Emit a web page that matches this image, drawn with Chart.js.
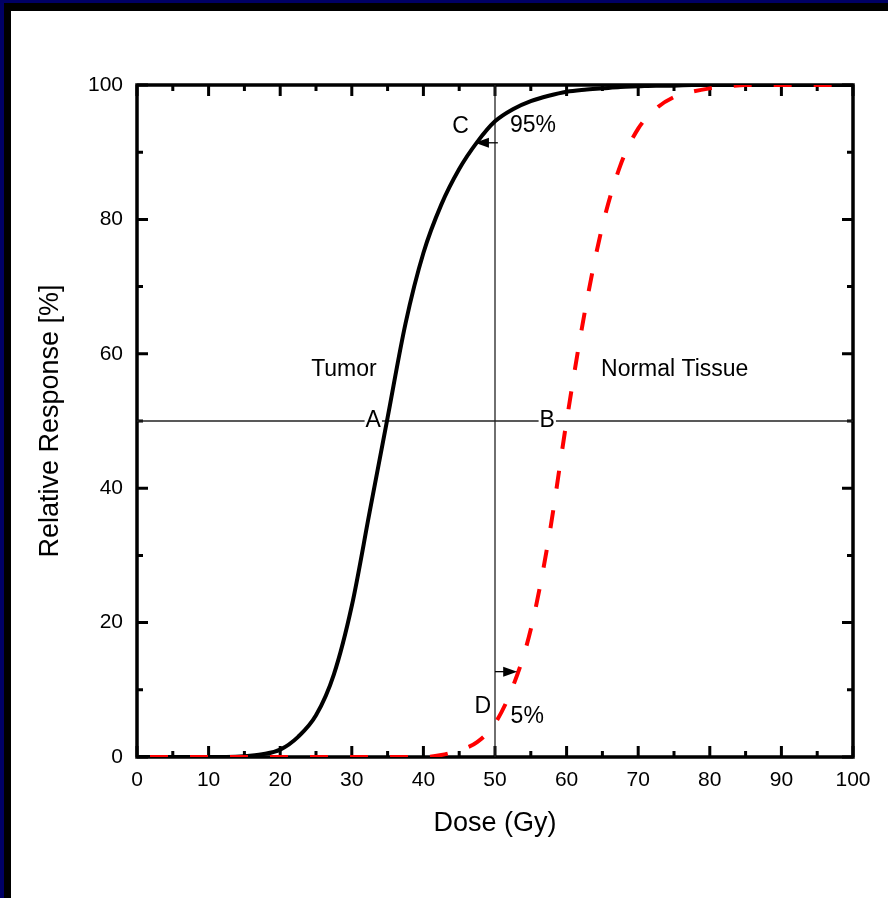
<!DOCTYPE html>
<html>
<head>
<meta charset="utf-8">
<script src="https://cdn.jsdelivr.net/npm/chart.js@4"></script>
<style>
body{margin:0;background:#fff;}
#wrap{position:relative;width:888px;height:898px;overflow:hidden;background:#fff;}
#chart{position:absolute;left:0;top:0;}
.edge{position:absolute;}
</style>
</head>
<body>
<div id="wrap">
<canvas id="chart" width="888" height="898"></canvas>
<div class="edge" style="left:0;top:0;width:888px;height:3px;background:#000066"></div>
<div class="edge" style="left:0;top:0;width:4px;height:898px;background:#000066"></div>
<div class="edge" style="left:4px;top:3px;width:884px;height:8px;background:#000"></div>
<div class="edge" style="left:4px;top:3px;width:7px;height:895px;background:#000"></div>
</div>
<script>
// dose in Gy, response in %
var doses = [0,2.5,5,7.5,10,12.5,15,17.5,20,22.5,25,27.5,30,32.5,35,37.5,40,42.5,45,47.5,
             50,52.5,55,57.5,60,62.5,65,67.5,70,72.5,75,77.5,80,82.5,85,87.5,90,92.5,95,97.5,100];
var tumor = [0,0,0,0,0,0,0.1,0.4,1.1,3.0,6.2,12.3,22.5,36.5,50.5,64.5,75,82.2,87.5,91.5,
             94.6,96.4,97.6,98.4,99,99.3,99.5,99.7,99.8,99.9,99.9,100,100,100,100,100,100,100,100,100,100];
var normal = [0,0,0,0,0,0,0,0,0,0,0,0,0,0,0,0,0,0.3,1,2.2,
              5,10.5,19,32.5,50,66,79,88,93.5,96.5,98.2,99,99.5,99.8,100,100,100,100,100,100,100];
var refDose = 50;
var refResp = 50;
var xTicks = [0,100,10];
var yTicks = [0,100,20];

// annotations (data units)
var notes = [
    {t:'C', x:45.2, y:93.8},
    {t:'95%', x:55.3, y:93.9},
    {t:'Tumor', x:28.9, y:57.7},
    {t:'Normal Tissue', x:75.1, y:57.7},
    {t:'A', x:33.0, y:50, bg:true},
    {t:'B', x:57.3, y:50, bg:true},
    {t:'D', x:48.3, y:7.5},
    {t:'5%', x:54.5, y:6}
];
var arrows = [
    {x0:50.4, x1:47.2, y:91.4},
    {x0:50, x1:53.1, y:12.7}
];

function pts(xs, ys){
    var out = [];
    for(var i=0;i<xs.length;i++) out.push({x:xs[i], y:ys[i]});
    return out;
}

var FONT = "'Liberation Sans', Arial, sans-serif";

var framePlugin = {
    id: 'frame',
    beforeDatasetsDraw: function(chart){
        var ctx = chart.ctx, a = chart.chartArea;
        var sx = chart.scales.x, sy = chart.scales.y;
        ctx.save();
        ctx.strokeStyle = '#000';
        ctx.lineWidth = 3;
        for(var v=0; v<=100; v+=5){
            var px = sx.getPixelForValue(v);
            var len = v%10===0 ? 11 : 6;
            ctx.beginPath();
            ctx.moveTo(px, a.bottom); ctx.lineTo(px, a.bottom-len);
            ctx.moveTo(px, a.top); ctx.lineTo(px, a.top+len);
            ctx.stroke();
        }
        for(var w=0; w<=100; w+=10){
            var py = sy.getPixelForValue(w);
            var l2 = w%20===0 ? 11 : 6;
            ctx.beginPath();
            ctx.moveTo(a.left, py); ctx.lineTo(a.left+l2, py);
            ctx.moveTo(a.right, py); ctx.lineTo(a.right-l2, py);
            ctx.stroke();
        }
        ctx.lineWidth = 3.5;
        ctx.strokeRect(a.left, a.top, a.right-a.left, a.bottom-a.top);
        ctx.restore();
    },
    afterDatasetsDraw: function(chart){
        var ctx = chart.ctx;
        var sx = chart.scales.x, sy = chart.scales.y;
        ctx.save();
        ctx.font = '23px ' + FONT;
        ctx.textAlign = 'center';
        ctx.textBaseline = 'middle';
        notes.forEach(function(n){
            var px = sx.getPixelForValue(n.x), py = sy.getPixelForValue(n.y);
            if(n.bg){
                var wd = ctx.measureText(n.t).width;
                ctx.fillStyle = '#fff';
                ctx.fillRect(px-wd/2-1, py-9, wd+2, 18);
            }
            ctx.fillStyle = '#000';
            ctx.fillText(n.t, px, py);
        });
        arrows.forEach(function(ar){
            var p0 = sx.getPixelForValue(ar.x0), p1 = sx.getPixelForValue(ar.x1);
            var py = sy.getPixelForValue(ar.y);
            var dir = p1 > p0 ? 1 : -1;
            ctx.strokeStyle = '#000';
            ctx.lineWidth = 1.3;
            ctx.beginPath();
            ctx.moveTo(p0, py); ctx.lineTo(p1 - dir*10, py);
            ctx.stroke();
            ctx.fillStyle = '#000';
            ctx.beginPath();
            ctx.moveTo(p1, py);
            ctx.lineTo(p1 - dir*14, py-5);
            ctx.lineTo(p1 - dir*14, py+5);
            ctx.closePath();
            ctx.fill();
        });
        ctx.restore();
    }
};

var ctx = document.getElementById('chart').getContext('2d');
var myChart = new Chart(ctx, {
    type: 'line',
    data: {
        datasets: [{
            label: 'Normal Tissue',
            data: pts(doses, normal),
            borderColor: '#ff0000',
            borderWidth: 4,
            borderDash: [18, 22],
            borderDashOffset: 27,
            borderCapStyle: 'butt',
            pointRadius: 0,
            cubicInterpolationMode: 'monotone',
            order: 0
        }, {
            label: 'Tumor',
            data: pts(doses, tumor),
            borderColor: '#000',
            borderWidth: 4,
            pointRadius: 0,
            cubicInterpolationMode: 'monotone',
            order: 1
        }, {
            label: 'h',
            data: [{x:xTicks[0], y:refResp}, {x:xTicks[1], y:refResp}],
            borderColor: '#222',
            borderWidth: 1.3,
            pointRadius: 0,
            order: 2
        }, {
            label: 'v',
            data: [{x:refDose, y:yTicks[0]}, {x:refDose, y:yTicks[1]}],
            borderColor: '#222',
            borderWidth: 1.3,
            pointRadius: 0,
            order: 2
        }, ]
    },
    options: {
        responsive: false,
        animation: false,
        layout: {padding: {left: 0, top: 85, right: 35, bottom: 0}},
        plugins: {legend: {display: false}, tooltip: {enabled: false}},
        scales: {
            x: {
                type: 'linear',
                min: xTicks[0], max: xTicks[1],
                ticks: {stepSize: xTicks[2], color: '#000', padding: 11, font: {size: 21, family: FONT}, maxRotation: 0},
                grid: {display: false, drawTicks: false},
                border: {display: false},
                title: {display: true, text: 'Dose (Gy)', color: '#000', font: {size: 27, family: FONT}, padding: {top: 0, bottom: 58}},
                afterFit: function(s){ s.height = 141; }
            },
            y: {
                type: 'linear',
                min: yTicks[0], max: yTicks[1],
                ticks: {stepSize: yTicks[2], color: '#000', padding: 14, font: {size: 21, family: FONT}},
                grid: {display: false, drawTicks: false},
                border: {display: false},
                title: {display: true, text: 'Relative Response [%]', color: '#000', font: {size: 27, family: FONT}, padding: {top: 34, bottom: 0}},
                afterFit: function(s){ s.width = 137; }
            }
        }
    },
    plugins: [framePlugin]
});
</script>
</body>
</html>
